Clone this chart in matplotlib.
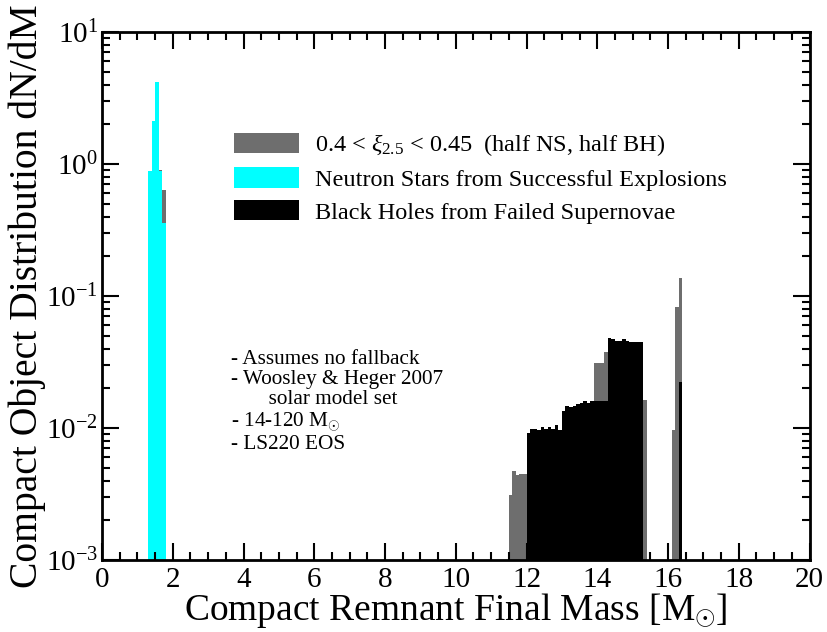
import math
import matplotlib
matplotlib.use("Agg")
import matplotlib.pyplot as plt
from matplotlib.patches import Patch
from matplotlib.ticker import LogLocator, MultipleLocator

plt.rcParams["font.family"] = ["Liberation Serif", "DejaVu Serif"]
plt.rcParams["mathtext.fontset"] = "custom"
plt.rcParams["mathtext.rm"] = "Liberation Serif"
plt.rcParams["mathtext.it"] = "Liberation Serif:italic"
plt.rcParams["mathtext.bf"] = "Liberation Serif:bold"

BIN = 0.1

# neutron stars from successful explosions
ns_mass = [1.3, 1.4, 1.5, 1.6, 1.7]
ns_dndm = [0.88, 2.13, 4.2, 0.88, 0.36]

# black holes from failed supernovae
bh_mass = [12.0, 12.1, 12.2, 12.3, 12.4, 12.5, 12.6, 12.7, 12.8, 12.9,
           13.0, 13.1, 13.2, 13.3, 13.4, 13.5, 13.6, 13.7, 13.8, 13.9,
           14.0, 14.1, 14.2,
           14.3, 14.4, 14.5, 14.6, 14.7, 14.8, 14.9, 15.0, 15.1, 15.2,
           16.3]
bh_dndm = [9.2e-3, 9.8e-3, 9.8e-3, 9.7e-3, 1.01e-2, 9.9e-3, 1.02e-2, 9.9e-3, 1.05e-2, 9.7e-3,
           1.35e-2, 1.47e-2, 1.44e-2, 1.48e-2, 1.51e-2, 1.54e-2, 1.59e-2, 1.56e-2, 1.59e-2, 1.61e-2,
           1.61e-2, 1.61e-2, 1.61e-2,
           4.78e-2, 4.7e-2, 4.6e-2, 4.6e-2, 4.7e-2, 4.6e-2, 4.5e-2, 4.5e-2, 4.5e-2, 4.52e-2,
           2.25e-2]

# ambiguous models 0.4 < xi_2.5 < 0.45 (counted half NS, half BH), drawn behind
mix_mass = [1.6, 1.7,
            11.5, 11.6, 11.7, 11.8, 11.9,
            13.9, 14.0, 14.1, 14.2, 15.3,
            16.1, 16.2, 16.3]
mix_dndm = [0.90, 0.63,
            3.1e-3, 4.7e-3, 4.4e-3, 4.5e-3, 4.5e-3,
            3.12e-2, 3.12e-2, 3.12e-2, 3.78e-2, 1.63e-2,
            9.7e-3, 8.2e-2, 0.138]

GREY = "#6e6e6e"
CYAN = "#00ffff"

fig = plt.figure(figsize=(8.28, 6.32), dpi=100)
ax = fig.add_axes([0.1232, 0.1139, 0.8545, 0.8355])

ax.bar(mix_mass, mix_dndm, width=BIN, align="edge", color=GREY, linewidth=0, log=True)
ax.bar(ns_mass, ns_dndm, width=BIN, align="edge", color=CYAN, linewidth=0, log=True)
ax.bar(bh_mass, bh_dndm, width=BIN, align="edge", color="black", linewidth=0, log=True)

ax.set_xlim(0, 20)
ax.set_ylim(1e-3, 1e1)
ax.xaxis.set_major_locator(MultipleLocator(2))
ax.xaxis.set_minor_locator(MultipleLocator(0.5))
ax.yaxis.set_major_locator(LogLocator(base=10, numticks=10))
ax.yaxis.set_minor_locator(LogLocator(base=10, subs=range(2, 10), numticks=20))
ax.yaxis.set_major_formatter(plt.FuncFormatter(lambda v, p: r"$10^{%d}$" % round(math.log10(v))))
ax.yaxis.set_minor_formatter(plt.NullFormatter())

for s in ax.spines.values():
    s.set_linewidth(2.0)
ax.tick_params(which="both", direction="in", top=True, right=True, width=1.5)
ax.tick_params(which="major", length=12, labelsize=21, pad=5)
ax.tick_params(which="minor", length=6)
ax.tick_params(axis="y", which="major", pad=3)

ax.set_xlabel(r"Compact Remnant Final Mass [M$_{\odot}$]", fontsize=27, labelpad=-1)
ax.set_ylabel("Compact Object Distribution dN/dM", fontsize=28.5, labelpad=0)

handles = [Patch(color=GREY, linewidth=0), Patch(color=CYAN, linewidth=0), Patch(color="black", linewidth=0)]
labels = [r"0.4 < $\xi_{2.5}$ < 0.45  (half NS, half BH)",
          "Neutron Stars from Successful Explosions",
          "Black Holes from Failed Supernovae"]
ax.legend(handles, labels, loc="upper left", bbox_to_anchor=(0.187, 0.81), frameon=False,
          fontsize=17.5, handlelength=2.67, handleheight=0.9, handletextpad=0.66,
          labelspacing=0.38, borderpad=0, borderaxespad=0)

notes = ("- Assumes no fallback\n"
         "- Woosley & Heger 2007\n"
         "       solar model set\n"
         r"- 14-120 M$_{\odot}$" "\n"
         "- LS220 EOS")
ax.text(0.183, 0.397, notes, transform=ax.transAxes, fontsize=15.3, va="top", ha="left",
        linespacing=1.07)

fig.savefig("out.png", dpi=100)
